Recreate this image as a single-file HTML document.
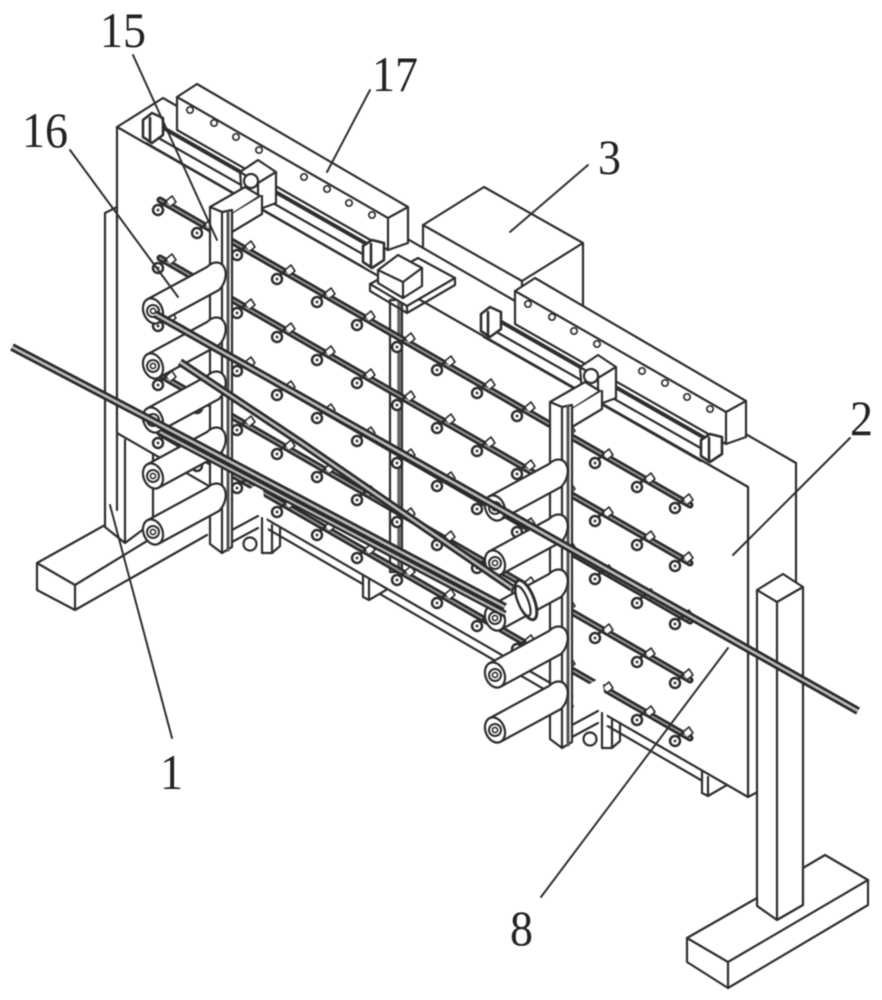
<!DOCTYPE html>
<html>
<head>
<meta charset="utf-8">
<style>
html,body{margin:0;padding:0;background:#fff}
svg{display:block;filter:blur(0.45px)}
text{font-family:"Liberation Serif",serif;font-size:50px;fill:#222;stroke:none}
</style>
</head>
<body>
<svg width="882" height="1000" viewBox="0 0 882 1000" xmlns="http://www.w3.org/2000/svg">
<defs>
  <g id="bolt">
    <path d="M8,-9 L14,-14 L18,-8 L13,-4" fill="#fff" stroke-width="1.6"/>
    <circle r="5" fill="#fff" stroke-width="2.5"/>
    <circle r="1.5" fill="#444" stroke="none"/>
    <path d="M3,-4 L8,-8" stroke-width="2.8"/>
  </g>
  <g id="row">
    <path d="M160,200 L690,505" stroke="#2a2a2a" stroke-width="7" fill="none"/>
    <path d="M160,200 L690,505" stroke="#999" stroke-width="1.8" fill="none"/>
    <use href="#bolt" x="158" y="210"/><use href="#bolt" x="197" y="233"/>
    <use href="#bolt" x="237" y="255"/><use href="#bolt" x="277" y="279"/>
    <use href="#bolt" x="317" y="302"/><use href="#bolt" x="357" y="325"/>
    <use href="#bolt" x="397" y="347"/><use href="#bolt" x="437" y="370"/>
    <use href="#bolt" x="477" y="393"/><use href="#bolt" x="517" y="416"/>
    <use href="#bolt" x="557" y="439"/><use href="#bolt" x="595" y="463"/>
    <use href="#bolt" x="637" y="487"/><use href="#bolt" x="675" y="508"/>
  </g>
  <g id="block">
    <path d="M177,97 L197,84 L408,207 L408,243 L388,250 L177,130 Z" fill="#fff"/>
    <path d="M177,97 L388,218 L408,207 M388,218 V250" fill="none"/>
    <g fill="#fff" stroke-width="1.7">
      <circle cx="190" cy="110" r="3.2"/><circle cx="214" cy="123" r="3.2"/>
      <circle cx="236" cy="137" r="3.2"/><circle cx="259" cy="150" r="3.2"/>
      <circle cx="304" cy="177" r="3.2"/><circle cx="327" cy="189" r="3.2"/>
      <circle cx="349" cy="203" r="3.2"/><circle cx="372" cy="215" r="3.2"/>
    </g>
  </g>
  <g id="rail">
    <path d="M143,120 L163,132 L372,252 L363,262 L143,136 Z" fill="#fff" stroke="none"/>
    <path d="M160,126 L372,247" stroke-width="4" fill="none"/>
    <path d="M155,136 L366,256" fill="none"/>
    <path d="M146,143 L363,267" fill="none"/>
    <path d="M143,120 L152,113 L163,118 V135 L152,143 L143,137 Z M150,118 V142" fill="#fff" stroke-width="2.6"/>
    <path d="M363,246 L372,240 L384,243 V260 L372,268 L363,262 Z M371,244 V267" fill="#fff" stroke-width="2.6"/>
  </g>
  <g id="col">
    <path d="M240,172 L258,160 L276,172 V203 L260,209 L242,198 Z" fill="#fff"/>
    <path d="M258,183 L276,172 M258,183 V209 M240,172 L258,183" fill="none"/>
    <circle cx="251" cy="181" r="7" fill="#fff"/>
    <path d="M210,207 L245,187 L260,196 L232,214 L222,212 Z" fill="#fff"/>
    <path d="M232,214 V232 L262,214 V196" fill="#fff"/>
    <path d="M233,498 L262,482 L268,530 L236,548 Z" fill="#fff" stroke="none"/>
    <path d="M232,530 L258,516 M232,542 L258,528 M262,518 V553 L272,553 L280,546 V528 M272,525 V553" fill="none"/>
    <circle cx="250" cy="544" r="6.5" fill="#fff"/>
    <path d="M210,207 L222,212 L232,210 V547 L222,553 L210,544 Z" fill="#fff"/>
    <path d="M222,212 V553" fill="none"/>
    <path d="M228,212 V550" stroke-width="3" fill="none" stroke="#555"/>
  </g>
  <g id="roller">
    <circle cx="66" cy="-35" r="6" fill="#fff" stroke-width="1.8"/>
    <path d="M-6,-11.5 L54,-44 A9,13 25 0 1 66,-21 L6,11.5 Z" fill="#fff"/>
    <ellipse rx="9.5" ry="13" transform="rotate(-22)" fill="#fff" stroke-width="2.2"/>
    <circle r="6" fill="#fff" stroke-width="2"/>
    <circle r="2.6" fill="#fff" stroke-width="1.6"/>
  </g>
</defs>

<g stroke="#2e2e2e" stroke-width="2.2" stroke-linejoin="round" stroke-linecap="round">
  <!-- left support -->
  <path d="M37,563 L105,525 L153,520 L207,500 L207,535 L75,610 L37,590 Z" fill="#fff" stroke="none"/>
  <path d="M37,563 L105,525 M37,563 L75,585 L147,541 M37,563 V590 L75,610 L207,535 M75,585 V610" fill="none"/>
  <path d="M105,213 L117,207 L153,300 V522 L125,543 L105,527 Z" fill="#fff" stroke="none"/>
  <path d="M105,213 L117,207 M105,213 V527 L125,543 L153,522 V450 M125,440 V543 M117,200 V510" fill="none"/>

  <!-- lower strip and feet -->
  <path d="M235,510 L706,783" fill="none"/>
  <path d="M234,493 L360,566" fill="none"/>
  <path d="M363,575 V597 L369,600 L386,590 M369,580 V600" fill="#fff"/>
  <path d="M702,772 V793 L708,796 L727,785 M708,777 V796" fill="#fff"/>

  <!-- block 3 -->
  <path d="M423,225 L484,187 L583,243 V345 L423,255 Z" fill="#fff"/>
  <path d="M423,225 L522,281 L583,243 M522,281 V300" fill="none"/>

  <!-- board -->
  <path d="M117,127 L163,98 L796,463 V772 L748,797 V487 Z" fill="#fff"/>
  <path d="M117,127 L748,487 V797 L117,433 Z" fill="#fff"/>
  <use href="#block"/>
  <use href="#block" transform="translate(338,194)"/>
  <use href="#rail"/>
  <use href="#rail" transform="translate(338,194)"/>

  <!-- middle column -->
  <path d="M390,300 H402 V572 H390 Z" fill="#fff"/>
  <path d="M399,300 V572" stroke-width="3.5" stroke="#666" fill="none"/>

  <!-- rods -->
  <use href="#row"/>
  <use href="#row" transform="translate(0,58)"/>
  <use href="#row" transform="translate(0,116)"/>
  <use href="#row" transform="translate(0,175)"/>
  <use href="#row" transform="translate(0,233)"/>

  <!-- motor plate -->
  <path d="M370,284 L418,258 L455,278 L407,306 Z" fill="#fff"/>
  <path d="M370,284 V291 L407,313 L455,285 V278 M407,306 V313" fill="none"/>
  <path d="M378,270 L398,255 L422,268 V286 L403,298 L378,283 Z" fill="#fff"/>
  <path d="M378,270 L403,282 L422,268 M403,282 V298" fill="none"/>

  <!-- columns -->
  <use href="#col"/>
  <use href="#col" transform="translate(340,195)"/>

  <!-- rollers -->
  <use href="#roller" x="153" y="311"/><use href="#roller" x="153" y="366"/>
  <use href="#roller" x="153" y="420"/><use href="#roller" x="153" y="476"/>
  <use href="#roller" x="153" y="532"/>
  <use href="#roller" x="495" y="508"/><use href="#roller" x="495" y="563"/>
  <use href="#roller" x="495" y="618"/><use href="#roller" x="495" y="675"/>
  <use href="#roller" x="495" y="730"/>

  <!-- right support -->
  <path d="M757,590 L783,574 L803,587 V905 L777,920 L757,906 Z" fill="#fff"/>
  <path d="M757,590 L777,602 L803,587 M777,602 V920" fill="none"/>
  <path d="M687,938 L757,898 V906 L777,920 L803,905 V868 L825,855 L868,880 V905 L728,988 L687,962 Z" fill="#fff"/>
  <path d="M687,938 L728,962 L868,880 M728,962 V988" fill="none"/>

  <!-- wires -->
  <g fill="none" stroke-linecap="butt">
    <path d="M12,347 L155,422 L505,607" stroke="#2a2a2a" stroke-width="8"/>
    <path d="M12,347 L155,422 L505,607" stroke="#bbb" stroke-width="2.6"/>
    <path d="M160,432 L505,614" stroke="#2a2a2a" stroke-width="7"/>
    <path d="M160,432 L505,614" stroke="#bbb" stroke-width="2.2"/>
    <path d="M180,362 L300,442 L512,588" stroke="#2a2a2a" stroke-width="8"/>
    <path d="M180,362 L300,442 L512,588" stroke="#bbb" stroke-width="2.6"/>
    <path d="M155,314 L858,711" stroke="#2a2a2a" stroke-width="8"/>
    <path d="M155,314 L858,711" stroke="#bbb" stroke-width="2.6"/>
  </g>
  <ellipse cx="526" cy="600" rx="8" ry="21" transform="rotate(-22 526 600)" fill="#fff" stroke-width="3"/>
  <ellipse cx="523" cy="601" rx="5" ry="16" transform="rotate(-22 523 601)" fill="#fff"/>

  <!-- leaders -->
  <g fill="none" stroke-width="2">
    <path d="M133,55 L217,240"/>
    <path d="M70,150 L178,297"/>
    <path d="M370,90 L327,172"/>
    <path d="M588,165 L510,232"/>
    <path d="M850,438 L733,555"/>
    <path d="M172,738 L110,505"/>
    <path d="M541,897 L728,648"/>
  </g>
</g>

<text x="100" y="47" textLength="46" lengthAdjust="spacingAndGlyphs">15</text>
<text x="22" y="147" textLength="46" lengthAdjust="spacingAndGlyphs">16</text>
<text x="372" y="91" textLength="46" lengthAdjust="spacingAndGlyphs">17</text>
<text x="598" y="174" textLength="23" lengthAdjust="spacingAndGlyphs">3</text>
<text x="850" y="435" textLength="23" lengthAdjust="spacingAndGlyphs">2</text>
<text x="160" y="789" textLength="23" lengthAdjust="spacingAndGlyphs">1</text>
<text x="510" y="945" textLength="23" lengthAdjust="spacingAndGlyphs">8</text>
</svg>
</body>
</html>
